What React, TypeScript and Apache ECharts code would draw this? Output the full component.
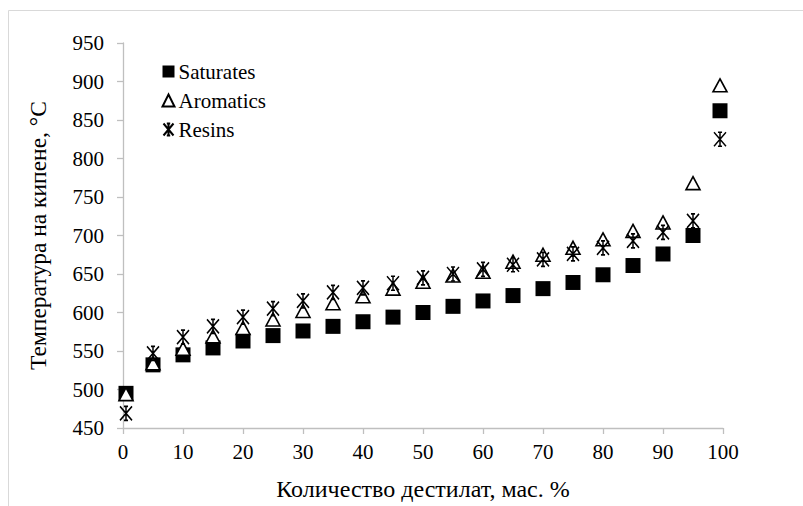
import React, { useEffect, useRef } from "react";
import * as echarts from "echarts";

const xValues = [0.5, 5, 10, 15, 20, 25, 30, 35, 40, 45, 50, 55, 60, 65, 70, 75, 80, 85, 90, 95, 99.5];
const saturates = [495, 532, 545, 554, 563, 570, 576, 582, 588, 594, 600, 608, 615, 622, 631, 639, 649, 661, 676, 700, 862];
const aromatics = [494, 534, 553, 569, 580, 591, 602, 612, 621, 631, 640, 648, 653, 666, 675, 684, 695, 706, 717, 768, 895];
const resins = [469, 547, 568, 582, 594, 605, 615, 626, 632, 638, 645, 650, 656, 662, 669, 676, 684, 693, 704, 719, 825];

const seriesNames = ["Saturates", "Aromatics", "Resins"];
const xAxisTitle = "Количество дестилат, мас. %";
const yAxisTitle = "Температура на кипене, °С";

const asteriskPath =
  "path://M0,0 L10,12 M10,0 L0,12 M5,0 L5,12 M3.3,0 L6.7,0 M3.3,12 L6.7,12";

const FONT = "Liberation Serif";

function pairs(xs: number[], ys: number[]) {
  return xs.map((x, i) => [x, ys[i]]);
}

export default function App() {
  const ref = useRef<HTMLDivElement>(null);

  useEffect(() => {
    if (!ref.current) return;
    const chart = echarts.init(ref.current, null, { renderer: "svg" });
    const axisColor = "#bfbfbf";
    const labelStyle = { fontFamily: FONT, fontSize: 21, color: "#000" };
    chart.setOption({
      animation: false,
      backgroundColor: "#ffffff",
      textStyle: { fontFamily: FONT, fontSize: 21, color: "#000" },
      graphic: [
        {
          type: "rect",
          shape: { x: 8.5, y: 10.5, width: 900, height: 600 },
          style: { fill: "none", stroke: "#d9d9d9", lineWidth: 1 },
          silent: true,
        },
      ],
      grid: { left: 123, right: 80, top: 43, bottom: 78, containLabel: false },
      legend: {
        orient: "vertical",
        left: 161,
        top: 61,
        padding: 0,
        itemWidth: 12,
        itemHeight: 12,
        itemGap: 8,
        textStyle: { ...labelStyle, padding: [0, 0, 0, -1] },
        data: [
          { name: seriesNames[0], icon: "rect" },
          { name: seriesNames[1], icon: "triangle" },
          { name: seriesNames[2], icon: asteriskPath },
        ],
      },
      xAxis: {
        type: "value",
        min: 0,
        max: 100,
        interval: 10,
        name: xAxisTitle,
        nameLocation: "middle",
        nameGap: 49,
        nameTextStyle: { fontFamily: FONT, fontSize: 24, color: "#000" },
        axisLine: { show: true, onZero: false, lineStyle: { color: axisColor, width: 1.3 } },
        axisTick: { show: true, length: 6, lineStyle: { color: axisColor, width: 1.3 } },
        axisLabel: { ...labelStyle, margin: 13 },
        splitLine: { show: false },
      },
      yAxis: {
        type: "value",
        min: 450,
        max: 950,
        interval: 50,
        name: yAxisTitle,
        nameLocation: "middle",
        nameGap: 73,
        nameTextStyle: { fontFamily: FONT, fontSize: 23.5, color: "#000" },
        axisLine: { show: true, lineStyle: { color: axisColor, width: 1.3 } },
        axisTick: { show: true, length: 6, lineStyle: { color: axisColor, width: 1.3 } },
        axisLabel: { ...labelStyle, margin: 19 },
        splitLine: { show: false },
      },
      series: [
        {
          name: seriesNames[0],
          type: "scatter",
          symbol: "rect",
          symbolSize: 15,
          itemStyle: { color: "#000", borderColor: "#000", borderWidth: 0, opacity: 1 },
          data: pairs(xValues, saturates),
          z: 2,
        },
        {
          name: seriesNames[1],
          type: "scatter",
          symbol: "triangle",
          symbolSize: [14, 13],
          itemStyle: { color: "#fff", borderColor: "#000", borderWidth: 1.6, opacity: 1 },
          data: pairs(xValues, aromatics),
          z: 3,
        },
        {
          name: seriesNames[2],
          type: "scatter",
          symbol: asteriskPath,
          symbolSize: [12, 14],
          symbolKeepAspect: false,
          itemStyle: { color: "none", borderColor: "#000", borderWidth: 1.6, opacity: 1 },
          data: pairs(xValues, resins),
          z: 4,
        },
      ],
    });
    return () => chart.dispose();
  }, []);

  return (
    <div
      ref={ref}
      style={{ position: "fixed", left: 0, top: 0, width: 803, height: 506, background: "#fff" }}
    />
  );
}
